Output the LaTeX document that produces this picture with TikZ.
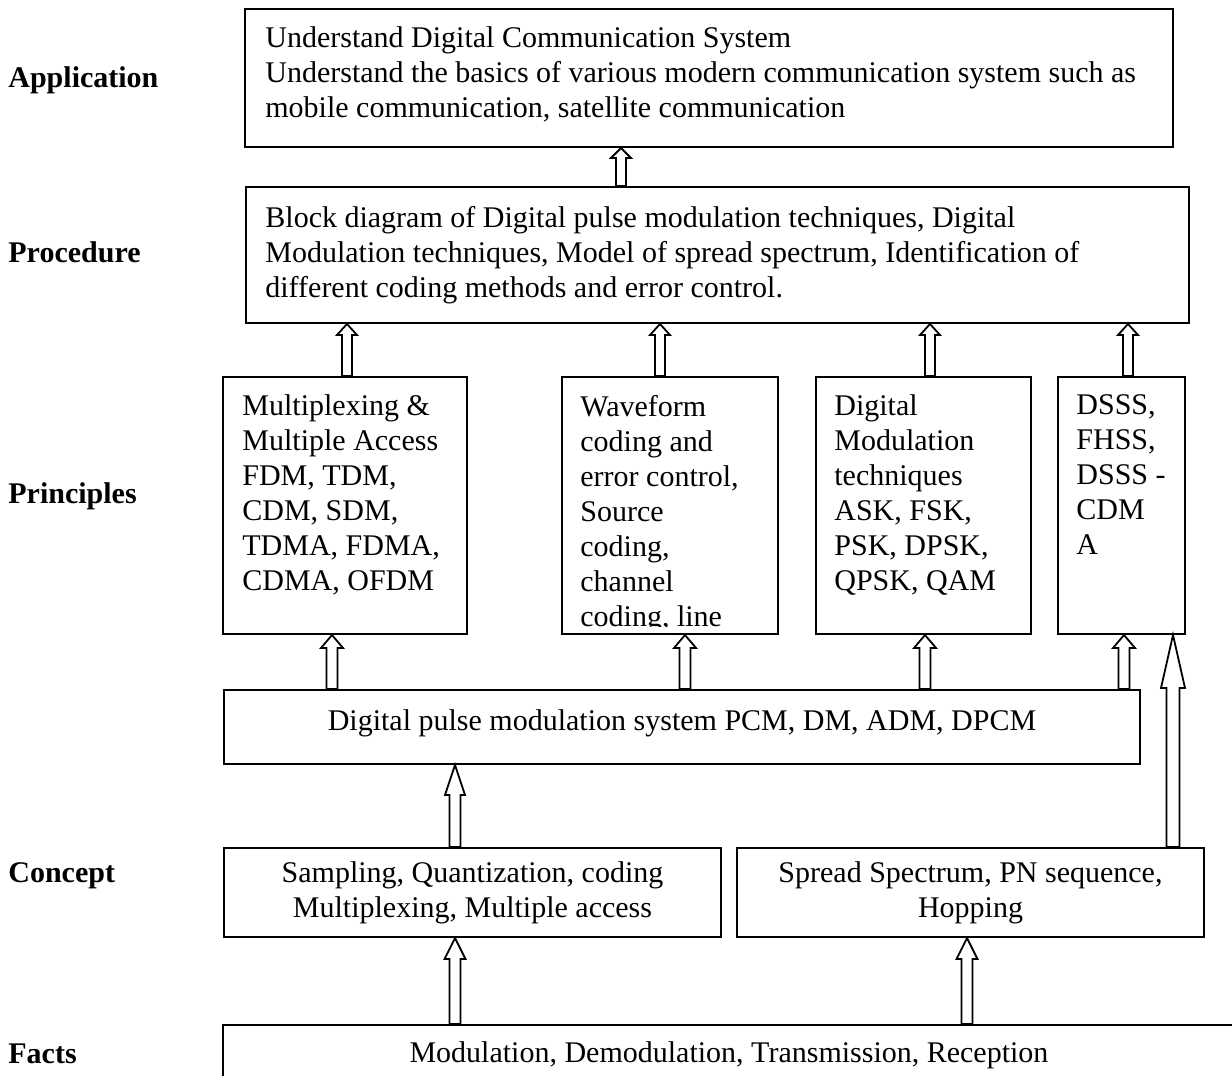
\documentclass[tikz,border=0pt]{standalone}
\usepackage{fontspec}
\setmainfont{Liberation Serif}
\usetikzlibrary{calc}

\newcommand{\diagfont}{\fontsize{15}{17.5}\selectfont}
% hollow block arrow: x, from, to, half shaft, half head, head length
\newcommand{\fatarrow}[6]{%
  \draw[hollow] let \p1=(#2), \p2=(#3) in
    ({#1pt-#4pt},\y1) -- ({#1pt-#4pt},{\y2-#6pt}) -- ({#1pt-#5pt},{\y2-#6pt})
    -- (#1pt,\y2) -- ({#1pt+#5pt},{\y2-#6pt}) -- ({#1pt+#4pt},{\y2-#6pt})
    -- ({#1pt+#4pt},\y1) -- cycle;}

\begin{document}
\begin{tikzpicture}[x=1pt, y=-1pt, every node/.style={font=\diagfont},
  blk/.style={draw, line width=1pt, inner sep=0pt, anchor=north west},
  txt/.style={anchor=north west, inner sep=0pt, align=left},
  lbl/.style={anchor=west, inner sep=0pt, font=\diagfont\bfseries},
  hollow/.style={draw, line width=0.9pt, fill=white}]
\useasboundingbox (0,0) rectangle (616,538);

% levels
\node[lbl] (lapp) at (4,40) {Application};
\node[lbl] (lproc) at (4,126) {Procedure};
\node[lbl] (lprin) at (4,248) {Principles};
\node[lbl] (lcon) at (4,438) {Concept};
\node[lbl] (lfact) at (4,527) {Facts};

% application
\node[blk, minimum width=464pt, minimum height=69pt] (app) at (122,4) {};
\node[txt] (apptext) at (132.5,13.3) {Understand Digital Communication System\\
  Understand the basics of various modern communication system such as\\
  mobile communication, satellite communication};

% procedure
\node[blk, minimum width=471.5pt, minimum height=68pt] (proc) at (122.5,93) {};
\node[txt] (proctext) at (132.5,102.75) {Block diagram of Digital pulse modulation techniques, Digital\\
  Modulation techniques, Model of spread spectrum, Identification of\\
  different coding methods and error control.};

% principles
\node[blk, minimum width=122pt, minimum height=128.5pt] (prin1) at (111,188) {};
\node[txt] (prin1text) at (121,197.25) {Multiplexing \&\\ Multiple Access\\ FDM, TDM,\\ CDM, SDM,\\ TDMA, FDMA,\\ CDMA, OFDM};
\node[blk, minimum width=108pt, minimum height=128.5pt] (prin2) at (280.5,188) {};
\begin{scope}
  \clip (prin2.north west) rectangle ([yshift=4.5pt]prin2.south east);
  \node[txt] (prin2text) at (290,197.25) {Waveform\\ coding and\\ error control,\\ Source\\ coding,\\ channel\\ coding, line};
\end{scope}
\node[blk, minimum width=107.5pt, minimum height=128.5pt] (prin3) at (407.5,188) {};
\node[txt] (prin3text) at (417,197.25) {Digital\\ Modulation\\ techniques\\ ASK, FSK,\\ PSK, DPSK,\\ QPSK, QAM};
\node[blk, minimum width=63.5pt, minimum height=128.5pt] (prin4) at (528.5,188) {};
\node[txt] (prin4text) at (538,197.25) {DSSS,\\ FHSS,\\ DSSS -\\ CDM\\ A};

% pulse modulation
\node[blk, minimum width=458pt, minimum height=37pt, text depth=7pt] (dpm) at (111.5,344.5) {Digital pulse modulation system PCM, DM, ADM, DPCM};

% concept
\node[blk, minimum width=248.5pt, minimum height=44.5pt, align=center] (con1) at (111.5,423.5) {Sampling, Quantization, coding\\ Multiplexing, Multiple access};
\node[blk, minimum width=233.5pt, minimum height=44.5pt, align=center] (con2) at (368,423.5) {Spread Spectrum, PN sequence,\\ Hopping};

% facts
\node[blk, minimum width=506pt, minimum height=30pt] (facts) at (111,512) {Modulation, Demodulation, Transmission, Reception};

% arrows
\fatarrow{310.5}{proc.north}{app.south}{2.5}{5}{5}
\foreach \ax/\src in {173.5/prin1, 330/prin2, 465/prin3, 564/prin4}
  {\fatarrow{\ax}{\src.north}{proc.south}{2.5}{5}{5.5}}
\foreach \ax/\dst in {166/prin1, 342.5/prin2, 462.5/prin3, 562/prin4}
  {\fatarrow{\ax}{dpm.north}{\dst.south}{2.75}{5.5}{6.5}}
\fatarrow{227.5}{con1.north}{dpm.south}{2.75}{5}{15}
\fatarrow{586.5}{con2.north}{prin4.south}{3.25}{6}{26.5}
\fatarrow{227.5}{facts.north}{con1.south}{2.75}{5.25}{10.5}
\fatarrow{483.5}{facts.north}{con2.south}{2.75}{5.25}{10.5}
\end{tikzpicture}
\end{document}
